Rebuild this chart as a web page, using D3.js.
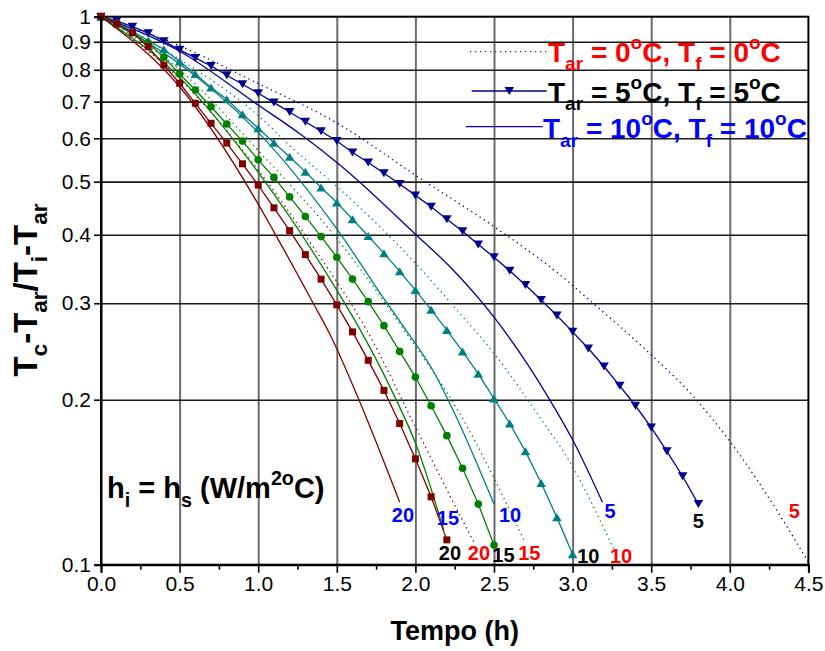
<!DOCTYPE html>
<html>
<head>
<meta charset="utf-8">
<script src="https://cdn.jsdelivr.net/npm/d3@7"></script>
<style>
  body { margin: 0; background: #fff; }
  svg { font-family: "Liberation Sans", Arial, sans-serif; }
</style>
</head>
<body>
<main></main>
<script>
// time grid (h) used by the series with markers (one point every 0.1 h)
var tGrid = [0, 0.1, 0.2, 0.3, 0.4, 0.5, 0.6, 0.7, 0.8, 0.9, 1.0, 1.1, 1.2, 1.3, 1.4, 1.5, 1.6, 1.7, 1.8, 1.9,
             2.0, 2.1, 2.2, 2.3, 2.4, 2.5, 2.6, 2.7, 2.8, 2.9, 3.0, 3.1, 3.2, 3.3, 3.4, 3.5, 3.6, 3.7, 3.8];

// Tar = 5 C (markers)
var m5h5 = [1, 0.983, 0.959, 0.933, 0.902, 0.870, 0.841, 0.813, 0.782, 0.753, 0.725, 0.697, 0.670, 0.643, 0.618, 0.593,
            0.565, 0.542, 0.518, 0.495, 0.472, 0.450, 0.427, 0.406, 0.384, 0.364, 0.344, 0.324, 0.304, 0.285, 0.266,
            0.248, 0.230, 0.212, 0.195, 0.178, 0.161, 0.145, 0.129];
var m5h10 = [1, 0.975, 0.94, 0.905, 0.872, 0.828, 0.786, 0.743, 0.707, 0.664, 0.626, 0.589, 0.555, 0.521, 0.488, 0.458,
             0.427, 0.398, 0.370, 0.343, 0.317, 0.292, 0.268, 0.245, 0.223, 0.201, 0.181, 0.161, 0.141, 0.122, 0.1045];
var m5h15 = [1, 0.972, 0.935, 0.895, 0.843, 0.786, 0.735, 0.685, 0.637, 0.593, 0.548, 0.509, 0.469, 0.432, 0.397, 0.364,
             0.332, 0.302, 0.273, 0.245, 0.220, 0.195, 0.172, 0.150, 0.129, 0.1086];
var m5h20 = [1, 0.97, 0.935, 0.882, 0.816, 0.756, 0.695, 0.639, 0.588, 0.539, 0.493, 0.448, 0.407, 0.368, 0.332, 0.298,
             0.266, 0.236, 0.208, 0.181, 0.156, 0.133, 0.111];

// Tar = 10 C (solid lines)
var s10h5x = [0, 0.5, 1.0, 1.27, 1.52, 2.0, 2.24, 2.5, 2.85, 3.0, 3.19];
var s10h5y = [1, 0.865, 0.69, 0.61, 0.536, 0.401, 0.345, 0.283, 0.201, 0.169, 0.13];
var s10h10x = [0, 0.5, 1.0, 1.5, 1.82, 1.94, 2.11, 2.26, 2.5];
var s10h10y = [1, 0.82, 0.615, 0.41, 0.30, 0.268, 0.2266, 0.186, 0.129];
var s10h15x = [0, 0.5, 1.0, 1.5, 1.65, 1.86, 2.01, 2.18];
var s10h15y = [1, 0.775, 0.52, 0.317, 0.268, 0.205, 0.164, 0.1157];
var s10h20x = [0, 0.5, 1.0, 1.1, 1.35, 1.46, 1.65, 1.9];
var s10h20y = [1, 0.745, 0.455, 0.405, 0.30, 0.262, 0.197, 0.13];

// Tar = 0 C (dotted lines)
var d0h5x = [0, 0.5, 1.0, 1.5, 2.03, 2.5, 2.92, 3.13, 3.49, 3.77, 4.0, 4.33, 4.5];
var d0h5y = [1, 0.885, 0.755, 0.64, 0.507, 0.414, 0.338, 0.300, 0.243, 0.2025, 0.168, 0.1216, 0.101];
var d0h10x = [0, 0.5, 1.0, 1.22, 1.5, 2.0, 2.28, 2.5, 2.79, 3.0, 3.09, 3.26];
var d0h10y = [1, 0.836, 0.66, 0.575, 0.49, 0.355, 0.288, 0.243, 0.186, 0.151, 0.135, 0.107];
var d0h15x = [0, 0.5, 1.0, 1.48, 1.94, 2.29, 2.57, 2.69];
var d0h15y = [1, 0.80, 0.57, 0.40, 0.265, 0.187, 0.131, 0.111];
var d0h20x = [0, 0.5, 1.0, 1.35, 1.69, 2.01, 2.33, 2.38];
var d0h20y = [1, 0.77, 0.525, 0.38, 0.268, 0.176, 0.116, 0.109];

// curve-end labels: text, colour, position in data units
var endLabels = [
  ["20", "#0000ff", 1.921, 0.1197], ["15", "#0000ff", 2.207, 0.1181], ["10", "#0000ff", 2.602, 0.1197], ["5", "#0000ff", 3.238, 0.1217],
  ["20", "#000000", 2.220, 0.1020], ["15", "#000000", 2.560, 0.1013], ["10", "#000000", 3.100, 0.1007], ["5", "#000000", 3.800, 0.1167],
  ["20", "#ff0000", 2.404, 0.1020], ["15", "#ff0000", 2.725, 0.1020], ["10", "#ff0000", 3.308, 0.1007], ["5", "#ff0000", 4.410, 0.1217]
];

var xTicks = [0, 0.5, 1.0, 1.5, 2.0, 2.5, 3.0, 3.5, 4.0, 4.5];
var xMinor = [0.25, 0.75, 1.25, 1.75, 2.25, 2.75, 3.25, 3.75, 4.25];
var yTicks = [0.1, 0.2, 0.3, 0.4, 0.5, 0.6, 0.7, 0.8, 0.9, 1];

var colH5 = "#000090", colH10 = "#008080", colH15 = "#008000", colH20 = "#800000";

var w = 825, h = 651;
var padL = 101, padT = 16.7, padR = 808.4, padB = 564.7;

var svg = d3.select("main").append("svg").attr("width", w).attr("height", h);

var xScale = d3.scaleLinear().domain([0, 4.5]).range([padL, padR]);
var yScale = d3.scaleLog().domain([0.1, 1]).range([padB, padT]);

// GRID
svg.append("g")
  .attr("transform", "translate(0," + padB + ")")
  .call(d3.axisBottom(xScale).tickValues(xTicks.slice(1, -1)).tickSize(-(padB - padT)).tickFormat(""))
  .call(function (g) { g.select(".domain").remove(); })
  .selectAll("line").attr("stroke", "#6b6b6b").attr("stroke-width", 2);

svg.append("g")
  .attr("transform", "translate(" + padL + ",0)")
  .call(d3.axisLeft(yScale).tickValues(yTicks.slice(1, -1)).tickSize(-(padR - padL)).tickFormat(""))
  .call(function (g) { g.select(".domain").remove(); })
  .selectAll("line").attr("stroke", "#1a1a1a").attr("stroke-width", 1.6);

// frame
svg.append("rect")
  .attr("x", padL).attr("y", padT).attr("width", padR - padL).attr("height", padB - padT)
  .attr("fill", "none").attr("stroke", "#000").attr("stroke-width", 2);

// LINES
function pts(xs, ys) { return xs.map(function (x, i) { return [x, ys[i]]; }); }

var smooth = d3.line()
  .x(function (d) { return xScale(d[0]); })
  .y(function (d) { return yScale(d[1]); })
  .curve(d3.curveMonotoneX);
var straight = d3.line()
  .x(function (d) { return xScale(d[0]); })
  .y(function (d) { return yScale(d[1]); });

var dotted = [[d0h5x, d0h5y, colH5], [d0h10x, d0h10y, colH10], [d0h15x, d0h15y, colH15], [d0h20x, d0h20y, colH20]];
dotted.forEach(function (s) {
  svg.append("path")
    .datum(pts(s[0], s[1]))
    .attr("d", smooth)
    .attr("fill", "none")
    .attr("stroke", s[2])
    .attr("stroke-width", 1.3)
    .attr("stroke-dasharray", "1.3,3.7");
});

var solid = [[s10h5x, s10h5y, colH5], [s10h10x, s10h10y, colH10], [s10h15x, s10h15y, colH15], [s10h20x, s10h20y, colH20]];
solid.forEach(function (s) {
  svg.append("path")
    .datum(pts(s[0], s[1]))
    .attr("d", smooth)
    .attr("fill", "none")
    .attr("stroke", s[2])
    .attr("stroke-width", 1.3);
});

var symbols = {
  down: "M-4.8,-4L4.8,-4L0,4Z",
  up: "M-4.8,4L4.8,4L0,-4Z",
  circle: d3.symbol(d3.symbolCircle, 46)(),
  square: "M-3.5,-3.5H3.5V3.5H-3.5Z"
};

var marked = [[m5h5, colH5, "down"], [m5h10, colH10, "up"], [m5h15, colH15, "circle"], [m5h20, colH20, "square"]];
marked.forEach(function (s) {
  var data = pts(tGrid.slice(0, s[0].length), s[0]);
  svg.append("path")
    .datum(data)
    .attr("d", straight)
    .attr("fill", "none")
    .attr("stroke", s[1])
    .attr("stroke-width", 1.3);
  svg.selectAll(null)
    .data(data)
    .enter()
    .append("path")
    .attr("d", symbols[s[2]])
    .attr("transform", function (d) { return "translate(" + xScale(d[0]) + "," + yScale(d[1]) + ")"; })
    .attr("fill", s[1]);
});

// AXES
svg.append("g")
  .attr("transform", "translate(0," + padB + ")")
  .call(d3.axisBottom(xScale).tickValues(xTicks).tickSize(8).tickPadding(3).tickFormat(d3.format(".1f")));
svg.append("g")
  .attr("transform", "translate(0," + padB + ")")
  .call(d3.axisBottom(xScale).tickValues(xMinor).tickSize(5).tickFormat(""))
  .call(function (g) { g.select(".domain").remove(); });
svg.append("g")
  .attr("transform", "translate(" + padL + ",0)")
  .call(d3.axisLeft(yScale).tickValues(yTicks).tickSize(7).tickPadding(3)
    .tickFormat(function (d) { return d === 1 ? "1" : d3.format(".1f")(d); }));

svg.selectAll(".domain").attr("stroke-width", 2).attr("stroke", "#000");
svg.selectAll(".tick line").filter(function () { return !this.getAttribute("stroke-width"); })
  .attr("stroke-width", 1.6);
svg.selectAll(".tick text").attr("font-size", 21).attr("font-family", "Liberation Sans, Arial, sans-serif").attr("fill", "#000");

// rich text helper: parts = [text, "sub"|"sup"|undefined]
function richText(g, x, y, parts, size, color) {
  var t = g.append("text").attr("x", x).attr("y", y)
    .attr("font-size", size).attr("font-weight", "bold").attr("fill", color);
  var shift = 0;
  parts.forEach(function (p) {
    var target = p[1] === "sub" ? size * 0.3 : p[1] === "sup" ? -size * 0.46 : 0;
    t.append("tspan")
      .attr("dy", target - shift)
      .attr("font-size", p[1] ? size * 0.68 : size)
      .text(p[0]);
    shift = target;
  });
  return t;
}

// axis titles
svg.append("text")
  .attr("x", (padL + padR) / 2)
  .attr("y", 640)
  .attr("text-anchor", "middle")
  .attr("font-size", 27)
  .attr("font-weight", "bold")
  .text("Tempo (h)");

var yTitle = svg.append("g").attr("transform", "translate(37,290) rotate(-90)");
richText(yTitle, 0, 0, [["T"], ["c", "sub"], ["-T"], ["ar", "sub"], ["/T"], ["i", "sub"], ["-T"], ["ar", "sub"]], 33, "#000")
  .attr("text-anchor", "middle");

// annotation
richText(svg, 107, 498, [["h"], ["i", "sub"], [" = h"], ["s", "sub"], [" (W/m"], ["2o", "sup"], ["C)"]], 29, "#000");

// LEGEND
svg.append("line").attr("x1", 470).attr("x2", 547).attr("y1", 51.7).attr("y2", 51.7)
  .attr("stroke", "#3030b0").attr("stroke-width", 1.3).attr("stroke-dasharray", "1.3,3.7");
svg.append("line").attr("x1", 471.7).attr("x2", 546.7).attr("y1", 91).attr("y2", 91)
  .attr("stroke", colH5).attr("stroke-width", 1.3);
svg.append("path").attr("d", symbols.down).attr("transform", "translate(509.3,91)").attr("fill", colH5);
svg.append("line").attr("x1", 466).attr("x2", 542.7).attr("y1", 126.7).attr("y2", 126.7)
  .attr("stroke", "#0000cc").attr("stroke-width", 1.3);

richText(svg, 548, 61.7, [["T"], ["ar", "sub"], [" = 0"], ["o", "sup"], ["C, T"], ["f", "sub"], [" = 0"], ["o", "sup"], ["C"]], 28, "#ff0000");
richText(svg, 548, 101.7, [["T"], ["ar", "sub"], [" = 5"], ["o", "sup"], ["C, T"], ["f", "sub"], [" = 5"], ["o", "sup"], ["C"]], 28, "#000000");
richText(svg, 543, 138.3, [["T"], ["ar", "sub"], [" = 10"], ["o", "sup"], ["C, T"], ["f", "sub"], [" = 10"], ["o", "sup"], ["C"]], 28, "#0000ff");

// curve-end labels
svg.selectAll(null)
  .data(endLabels)
  .enter()
  .append("text")
  .attr("x", function (d) { return xScale(d[2]); })
  .attr("y", function (d) { return yScale(d[3]); })
  .attr("text-anchor", "middle")
  .attr("font-size", 20)
  .attr("font-weight", "bold")
  .attr("fill", function (d) { return d[1]; })
  .text(function (d) { return d[0]; });
</script>
</body>
</html>
